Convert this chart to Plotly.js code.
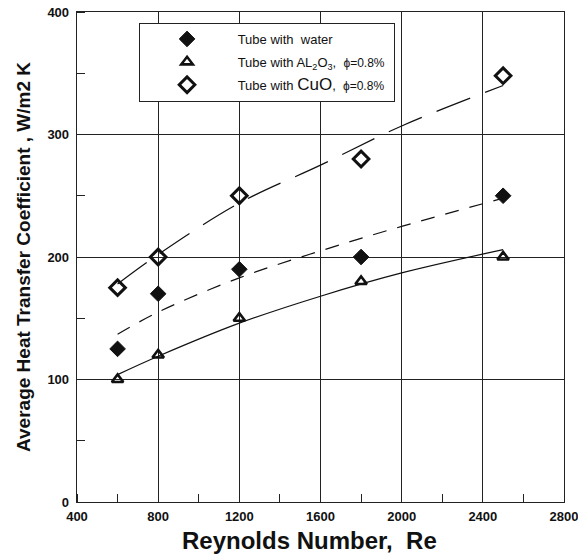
<!DOCTYPE html>
<html>
<head>
<meta charset="utf-8">
<script src="https://cdn.plot.ly/plotly-3.0.1.min.js"></script>
<style>html,body{margin:0;padding:0;background:#fff;}#chart{width:578px;height:554px;}</style>
</head>
<body>
<div id="chart"></div>
<script>
// Measured data points
const reynolds = [600, 800, 1200, 1800, 2500];
const waterH = [125, 170, 190, 200, 250];
const al2o3H = [100, 120, 150, 180, 200];
const cuoH = [175, 200, 250, 280, 348];

// Fitted curves
const fitX = [600, 800, 1200, 1600, 2000, 2500];
const waterFit = [137, 155, 183, 205, 225, 248];
const al2o3Fit = [104, 119, 146, 168, 187, 206];
const cuoFit = [178, 202, 244, 275, 307, 340];

// Labels
const legendNames = [
  "&nbsp;Tube with&nbsp;&nbsp;water",
  "&nbsp;Tube with AL<sub>2</sub>O<sub>3</sub>,&nbsp;&nbsp;<span style='font-size:12px'>ϕ=0.8%</span>",
  "&nbsp;Tube with <span style='font-size:17px'>CuO</span>,&nbsp;&nbsp;<span style='font-size:12px'>ϕ=0.8%</span>&nbsp;"
];
const xTickVals = [400, 800, 1200, 1600, 2000, 2400, 2800];
const yTickVals = [0, 100, 200, 300, 400];
const xTitle = "Reynolds Number,&nbsp;&nbsp;Re";
const yTitle = "Average Heat Transfer Coefficient , W/m2 K";

const FONT = "'Liberation Sans', Arial, sans-serif";

const traces = [
  {x: fitX, y: al2o3Fit, mode: 'lines', line: {color: '#111', width: 1.2, shape: 'spline'}, showlegend: false, hoverinfo: 'skip'},
  {x: fitX, y: waterFit, mode: 'lines', line: {color: '#111', width: 1.2, dash: '14px,11px', shape: 'spline'}, showlegend: false, hoverinfo: 'skip'},
  {x: fitX, y: cuoFit, mode: 'lines', line: {color: '#111', width: 1.2, dash: '36px,16px', shape: 'spline'}, showlegend: false, hoverinfo: 'skip'},
  {x: reynolds, y: waterH, mode: 'markers', name: legendNames[0], legendgroup: 'a',
   marker: {symbol: 'diamond', size: 12, color: '#111', line: {color: '#111', width: 1}}},
  {x: reynolds, y: al2o3H, mode: 'markers', name: legendNames[1], legendgroup: 'b',
   marker: {symbol: 'triangle-up-open', size: 10, color: '#111', line: {color: '#111', width: 2.6}}},
  {x: reynolds, y: cuoH, mode: 'markers', name: legendNames[2], legendgroup: 'c',
   marker: {symbol: 'diamond-open', size: 12, color: '#111', line: {color: '#111', width: 3}}}
];

const layout = {
  width: 578, height: 554,
  margin: {l: 77, r: 14, t: 12, b: 52},
  paper_bgcolor: '#fff', plot_bgcolor: '#fff',
  font: {family: FONT, color: '#111'},
  xaxis: {
    range: [400, 2800], tickvals: xTickVals, ticktext: xTickVals.map(String),
    showgrid: true, gridcolor: '#222', gridwidth: 1,
    showline: true, linecolor: '#222', linewidth: 1.3, mirror: true,
    zeroline: false, ticks: '', ticklabelstandoff: 2, ticklabeloverflow: 'allow',
    minor: {dtick: 200, tick0: 400, ticks: 'inside', ticklen: 8, tickcolor: '#222', tickwidth: 1, showgrid: false},
    tickfont: {family: FONT, size: 13, color: '#111', weight: 'bold'}
  },
  yaxis: {
    range: [0, 400], tickvals: yTickVals, ticktext: yTickVals.map(String),
    showgrid: true, gridcolor: '#222', gridwidth: 1,
    showline: true, linecolor: '#222', linewidth: 1.3, mirror: true,
    zeroline: false, ticks: '', ticklabelstandoff: 4, ticklabeloverflow: 'allow',
    minor: {dtick: 50, tick0: 0, ticks: 'inside', ticklen: 8, tickcolor: '#222', tickwidth: 1, showgrid: false},
    tickfont: {family: FONT, size: 13, color: '#111', weight: 'bold'},
    title: {text: yTitle, font: {family: FONT, size: 19, color: '#111', weight: 'bold'}, standoff: 11}
  },
  annotations: [
    {text: xTitle, xref: 'paper', yref: 'paper', x: 0.478, y: -0.078, xanchor: 'center', yanchor: 'middle',
     showarrow: false, font: {family: FONT, size: 24, color: '#111', weight: 'bold'}}
  ],
  legend: {
    x: 0.127, y: 0.978, xanchor: 'left', yanchor: 'top',
    bgcolor: '#fff', bordercolor: '#222', borderwidth: 1.2,
    itemwidth: 84, font: {family: FONT, size: 13, color: '#111'},
    tracegroupgap: 3
  },
  showlegend: true
};

Plotly.newPlot('chart', traces, layout, {displayModeBar: false, staticPlot: true});
</script>
</body>
</html>
